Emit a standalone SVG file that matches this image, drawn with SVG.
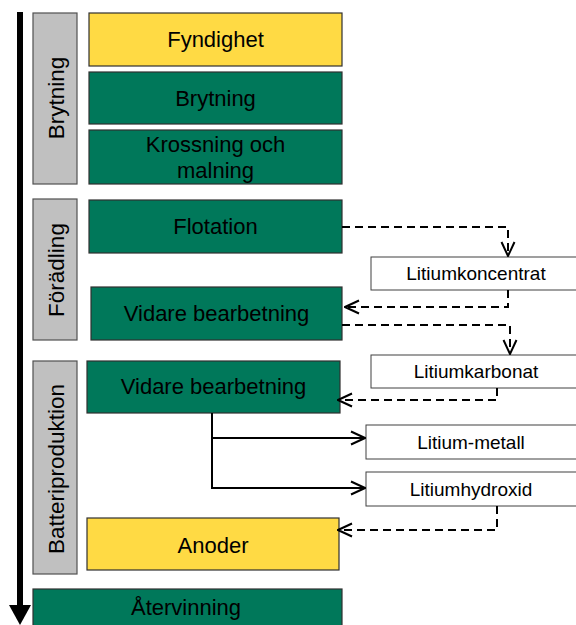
<svg xmlns="http://www.w3.org/2000/svg" width="576" height="625" viewBox="0 0 576 625">
  <style>
    text { font-family: "Liberation Sans", Arial, sans-serif; fill: #000; text-anchor: middle; dominant-baseline: central; }
    .green { fill: #00785A; stroke: #303030; stroke-width: 1.2; }
    .yellow { fill: #FFDA44; stroke: #303030; stroke-width: 1.2; }
    .phase { fill: #C0C0C0; stroke: #505050; stroke-width: 1.2; }
    .product { fill: #FFFFFF; stroke: #404040; stroke-width: 1; }
    .big { font-size: 22px; }
    .label { font-size: 22.5px; }
    .small { font-size: 19px; }
    .dash { fill: none; stroke: #000; stroke-width: 2; stroke-dasharray: 8 5; }
    .solid { fill: none; stroke: #000; stroke-width: 2; }
  </style>
  <defs>
    <marker id="open" viewBox="0 0 16 16" refX="15" refY="8" markerWidth="16" markerHeight="16" markerUnits="userSpaceOnUse" orient="auto">
      <path d="M1,1.5 L15,8 L1,14.5" fill="none" stroke="#000" stroke-width="2"/>
    </marker>
  </defs>

  <!-- timeline arrow -->
  <g id="timeline">
    <rect x="17" y="12" width="6" height="596" fill="#000"/>
    <polygon points="9,605 31,605 20,625" fill="#000"/>
  </g>

  <!-- phase labels -->
  <g id="phase-brytning">
    <rect class="phase" x="33" y="13" width="44" height="171"/>
    <text class="label" transform="translate(56,98) rotate(-90)">Brytning</text>
  </g>
  <g id="phase-foradling">
    <rect class="phase" x="33" y="199" width="44" height="141"/>
    <text class="label" transform="translate(56,270) rotate(-90)">Förädling</text>
  </g>
  <g id="phase-batteri">
    <rect class="phase" x="33" y="361" width="44" height="213"/>
    <text class="label" transform="translate(56,469) rotate(-90)">Batteriproduktion</text>
  </g>

  <!-- process steps -->
  <g id="fyndighet">
    <rect class="yellow" x="89" y="13" width="253" height="53"/>
    <text class="big" x="215.5" y="39.5">Fyndighet</text>
  </g>
  <g id="brytning">
    <rect class="green" x="89" y="72" width="253" height="52"/>
    <text class="big" x="215.5" y="98">Brytning</text>
  </g>
  <g id="krossning">
    <rect class="green" x="89" y="130" width="253" height="54"/>
    <text class="big" x="215.5" y="144">Krossning och</text>
    <text class="big" x="215.5" y="170">malning</text>
  </g>
  <g id="flotation">
    <rect class="green" x="89" y="200" width="253" height="53"/>
    <text class="big" x="215.5" y="226">Flotation</text>
  </g>
  <g id="vidare1">
    <rect class="green" x="91" y="287" width="251" height="53"/>
    <text class="big" x="216.5" y="313">Vidare bearbetning</text>
  </g>
  <g id="vidare2">
    <rect class="green" x="87" y="361" width="253" height="52"/>
    <text class="big" x="213.5" y="386">Vidare bearbetning</text>
  </g>
  <g id="anoder">
    <rect class="yellow" x="87" y="518" width="252" height="52"/>
    <text class="big" x="213" y="545">Anoder</text>
  </g>
  <g id="atervinning">
    <rect class="green" x="33" y="589" width="309" height="40"/>
    <text class="big" x="186" y="607">Återvinning</text>
  </g>

  <!-- products -->
  <g id="litiumkoncentrat">
    <rect class="product" x="371" y="257" width="210" height="33"/>
    <text class="small" x="476" y="273.5">Litiumkoncentrat</text>
  </g>
  <g id="litiumkarbonat">
    <rect class="product" x="371" y="355" width="210" height="33"/>
    <text class="small" x="476" y="371.5">Litiumkarbonat</text>
  </g>
  <g id="litium-metall">
    <rect class="product" x="366" y="425" width="215" height="34"/>
    <text class="small" x="471" y="442">Litium-metall</text>
  </g>
  <g id="litiumhydroxid">
    <rect class="product" x="366" y="472" width="215" height="34"/>
    <text class="small" x="471" y="489">Litiumhydroxid</text>
  </g>

  <!-- connectors -->
  <g id="connectors">
    <path class="dash" d="M342,227 H508 V256" marker-end="url(#open)"/>
    <path class="dash" d="M508,290 V307 H345" marker-end="url(#open)"/>
    <path class="dash" d="M342,325 H510 V354" marker-end="url(#open)"/>
    <path class="dash" d="M497,388 V400 H338" marker-end="url(#open)"/>
    <path class="solid" d="M212,413 V488 H365" marker-end="url(#open)"/>
    <path class="solid" d="M212,438 H365" marker-end="url(#open)"/>
    <path class="dash" d="M497,506 V530 H338" marker-end="url(#open)"/>
  </g>
</svg>
